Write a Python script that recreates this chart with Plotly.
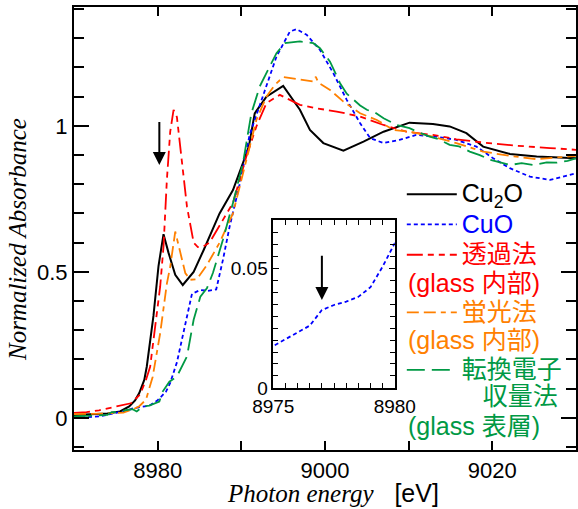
import plotly.graph_objects as go

# ---------------- data ----------------
cu2o_e = [8970, 8972, 8974, 8975.5, 8976.6, 8977.3, 8977.8, 8978.4, 8978.7, 8979.5, 8980.1,
          8980.7, 8981.3, 8982.1, 8983.0, 8984.3, 8985.5, 8987.4, 8989.0, 8990.2, 8990.9,
          8991.6, 8993.0, 8995.0, 8997.0, 8998.2, 8999.8, 9002.2, 9004.6, 9007.0, 9010.1,
          9012.9, 9014.9, 9016.9, 9018.9, 9022.1, 9025.3, 9030]
cu2o_a = [0.010, 0.012, 0.015, 0.022, 0.039, 0.060, 0.085, 0.130, 0.176, 0.350, 0.520,
          0.629, 0.565, 0.490, 0.455, 0.500, 0.575, 0.700, 0.780, 0.873, 0.930,
          1.043, 1.100, 1.137, 1.055, 0.986, 0.941, 0.915, 0.946, 0.980, 1.011,
          1.006, 0.998, 0.975, 0.929, 0.904, 0.895, 0.889]

cuo_e = [8970, 8973.1, 8975.0, 8975.5, 8976.0, 8976.5, 8977.0, 8977.5, 8978.0, 8978.5, 8979.0,
         8979.5, 8980.0, 8981.0, 8981.5, 8982.3, 8983.3, 8984.1, 8985.1, 8986.0, 8987.0,
         8987.8, 8988.6, 8989.8, 8991.0, 8992.6, 8994.2, 8995.8, 8996.6, 8997.8, 8999.4,
         9001.0, 9002.6, 9004.2, 9005.4, 9007.0, 9008.9, 9010.9, 9013.3, 9015.7, 9018.1,
         9020.1, 9022.1, 9024.5, 9026.9, 9030]
cuo_a = [0.000, 0.005, 0.0175, 0.0204, 0.023, 0.026, 0.0325, 0.0346, 0.036, 0.038, 0.042,
         0.0506, 0.0604, 0.090, 0.120, 0.190, 0.320, 0.425, 0.438, 0.435, 0.440,
         0.541, 0.655, 0.800, 0.970, 1.106, 1.237, 1.323, 1.331, 1.312, 1.260,
         1.180, 1.089, 1.009, 0.958, 0.941, 0.952, 0.969, 0.963, 0.952, 0.929,
         0.889, 0.855, 0.826, 0.815, 0.838]

trans_e = [8970, 8971.5, 8973.0, 8973.8, 8975.0, 8975.9, 8976.8, 8977.9, 8978.6, 8979.1,
           8979.9, 8980.3, 8980.7, 8981.1, 8981.5, 8981.9, 8982.3, 8982.9, 8983.5, 8984.3,
           8984.8, 8985.5, 8986.2, 8987.8, 8989.0, 8990.6, 8991.8, 8993.0, 8994.6, 8997.0,
           8999.0, 9001.4, 9004.2, 9007.0, 9009.7, 9012.9, 9015.7, 9018.9, 9022.9, 9026.9, 9030]
trans_a = [0.017, 0.020, 0.026, 0.031, 0.040, 0.045, 0.050, 0.080, 0.130, 0.175,
           0.350, 0.450, 0.587, 0.815, 0.980, 1.055, 1.030, 0.873, 0.724, 0.600,
           0.585, 0.588, 0.600, 0.678, 0.736, 0.895, 0.998, 1.078, 1.106, 1.072,
           1.060, 1.049, 1.032, 1.003, 0.980, 0.969, 0.954, 0.943, 0.932, 0.924, 0.918]

fluor_e = [8970, 8972, 8974, 8975.9, 8977.1, 8977.8, 8978.6, 8979.4, 8980.3, 8981.1, 8981.5,
           8982.1, 8982.7, 8983.3, 8983.9, 8984.7, 8985.9, 8987.4, 8989.0, 8990.2, 8991.0,
           8991.8, 8993.0, 8994.0, 8995.0, 8997.0, 8998.6, 8998.9, 8999.2, 9000.6, 9002.2,
           9004.2, 9006.2, 9008.2, 9010.1, 9012.9, 9015.7, 9018.9, 9022.1, 9025.3, 9027.5, 9030]
fluor_a = [0.013, 0.013, 0.015, 0.018, 0.030, 0.040, 0.062, 0.140, 0.290, 0.460, 0.518,
           0.638, 0.565, 0.496, 0.473, 0.475, 0.524, 0.600, 0.700, 0.838, 0.930,
           1.020, 1.100, 1.140, 1.167, 1.158, 1.152, 1.168, 1.148, 1.123, 1.083,
           1.043, 1.020, 0.986, 0.980, 0.963, 0.941, 0.912, 0.897, 0.886, 0.890, 0.897]

tey_e = [8970, 8972, 8974.0, 8974.5, 8975.1, 8976.3, 8977.0, 8977.5, 8978.2, 8979.0, 8979.6,
         8980.2, 8980.6, 8981.4, 8982.3, 8983.5, 8984.3, 8985.1, 8985.9, 8986.6, 8987.8,
         8989.0, 8990.2, 8991.2, 8992.2, 8993.2, 8994.2, 8995.2, 8996.2, 8997.0, 8998.6,
         8999.4, 9000.6, 9001.8, 9002.6, 9003.4, 9004.2, 9005.0, 9006.0, 9007.0, 9008.6,
         9010.1, 9011.0, 9012.5, 9013.5, 9014.9, 9016.0, 9017.3, 9018.5, 9019.7, 9021.0,
         9022.1, 9023.5, 9024.9, 9026.5, 9027.7, 9029.0, 9030]
tey_a = [0.005, 0.008, 0.010, 0.020, 0.020, 0.027, 0.030, 0.022, 0.039, 0.042, 0.050,
         0.056, 0.090, 0.124, 0.142, 0.210, 0.336, 0.415, 0.445, 0.496, 0.610,
         0.736, 0.873, 1.043, 1.135, 1.190, 1.249, 1.283, 1.286, 1.289, 1.283,
         1.266, 1.220, 1.146, 1.110, 1.089, 1.070, 1.055, 1.045, 1.026, 1.003,
         0.992, 0.980, 0.963, 0.955, 0.935, 0.930, 0.912, 0.900, 0.884, 0.875,
         0.866, 0.872, 0.866, 0.875, 0.874, 0.880, 0.889]

names = ["Cu<sub>2</sub>O", "CuO", "透過法<br> ", "蛍光法<br> ",
         "転換電子<br>&nbsp;&nbsp;&nbsp;収量法<br> "]
colors = ["#000000", "#0000ff", "#ff0000", "#ff8000", "#009944"]
subnotes = ["(glass 内部)", "(glass 内部)", "(glass 表層)"]

SANS = "Liberation Sans, Arial, Noto Sans CJK JP"
SERIF = "Liberation Serif, Times New Roman, serif"

fig = go.Figure()
series = [(cu2o_e, cu2o_a, "solid", 2.0),
          (cuo_e, cuo_a, "4px,3px", 1.8),
          (trans_e, trans_a, "16px,5px,6px,5px,6px,5px", 1.8),
          (fluor_e, fluor_a, "12px,5px,12px,5px,5px,5px", 1.8),
          (tey_e, tey_a, "18px,7px", 1.8)]
for (e, a, dash, w), nm, c in zip(series, names, colors):
    fig.add_trace(go.Scatter(x=e, y=a, mode="lines",
                             name=f"<span style='color:{c};font-size:25px'>{nm}</span>",
                             line=dict(color=c, dash=dash, width=w)))

# inset: CuO pre-edge
fig.add_trace(go.Scatter(x=cuo_e, y=cuo_a, mode="lines", showlegend=False, xaxis="x2", yaxis="y2",
                         line=dict(color=colors[1], dash="4px,3px", width=1.8)))

axis_common = dict(showline=True, linecolor="black", mirror="ticks", ticks="inside",
                   tickcolor="black", showgrid=False, zeroline=False)

fig.update_layout(
    width=578, height=509,
    margin=dict(l=74, r=2, t=7, b=59, autoexpand=False),
    paper_bgcolor="white", plot_bgcolor="white",
    font=dict(family=SANS, size=22, color="black"),
    xaxis=dict(range=[8970, 9030], domain=[0, 1], linewidth=2, tickwidth=1.5, ticklen=9,
               tick0=8980, dtick=20, minor=dict(dtick=10, ticklen=9, ticks="inside", tickcolor="black", tickwidth=1.5),
               tickfont=dict(size=22), **axis_common),
    yaxis=dict(range=[-0.11, 1.407], domain=[0, 1], linewidth=2, tickwidth=1.5, ticklen=15,
               tick0=0, dtick=0.5, minor=dict(dtick=0.1, ticklen=10, ticks="inside", tickcolor="black", tickwidth=1.5),
               tickfont=dict(size=22), **axis_common),
    xaxis2=dict(range=[8975, 8980], domain=[0.397, 0.639], anchor="y2", linewidth=1.5, ticklen=5,
                tickvals=[8975, 8980], minor=dict(dtick=0.5, ticklen=5, ticks="inside", tickcolor="black"),
                tickfont=dict(size=19), **axis_common),
    yaxis2=dict(range=[0, 0.07], domain=[0.140, 0.519], anchor="x2", linewidth=1.5, ticklen=6,
                tickvals=[0, 0.05], minor=dict(dtick=0.005, ticklen=5, ticks="inside", tickcolor="black"),
                tickfont=dict(size=19), **axis_common),
    legend=dict(x=0.653, y=0.623, xanchor="left", yanchor="top", bgcolor="rgba(0,0,0,0)",
                font=dict(family=SANS, size=21), valign="top", tracegroupgap=0, itemwidth=50),
    showlegend=True,
)

# second lines of the legend entries
for txt, c, yp in zip(subnotes, colors[2:], [0.377, 0.248, 0.054]):
    fig.add_annotation(xref="paper", yref="paper", x=0.662, y=yp, xanchor="left", yanchor="middle",
                       showarrow=False, text=txt, font=dict(family=SANS, size=25, color=c))

# axis titles
fig.add_annotation(xref="paper", yref="paper", x=0.516, y=-0.097, yanchor="middle", xanchor="center",
                   showarrow=False,
                   text="<span style='font-family:Liberation Serif'><i>Photon energy</i></span>&nbsp;&nbsp;&nbsp;[eV]",
                   font=dict(family=SANS, size=25))
fig.add_annotation(xref="paper", yref="paper", x=-0.1135, y=0.474, textangle=-90, showarrow=False,
                   xanchor="center", yanchor="middle",
                   text="<i>Normalized Absorbance</i>", font=dict(family=SERIF, size=25))

# arrows
fig.add_annotation(x=8980.2, y=0.866, ax=8980.2, ay=1.018, xref="x", yref="y", axref="x", ayref="y",
                   text="", showarrow=True, arrowhead=2, arrowsize=1.3, arrowwidth=2, arrowcolor="black")
fig.add_annotation(x=8977.0, y=0.0367, ax=8977.0, ay=0.0558, xref="x2", yref="y2", axref="x2", ayref="y2",
                   text="", showarrow=True, arrowhead=2, arrowsize=1.3, arrowwidth=2, arrowcolor="black")

fig.write_html("out.html", config={"displayModeBar": False},
               post_script="document.body.style.margin='0';document.body.style.padding='0';")
